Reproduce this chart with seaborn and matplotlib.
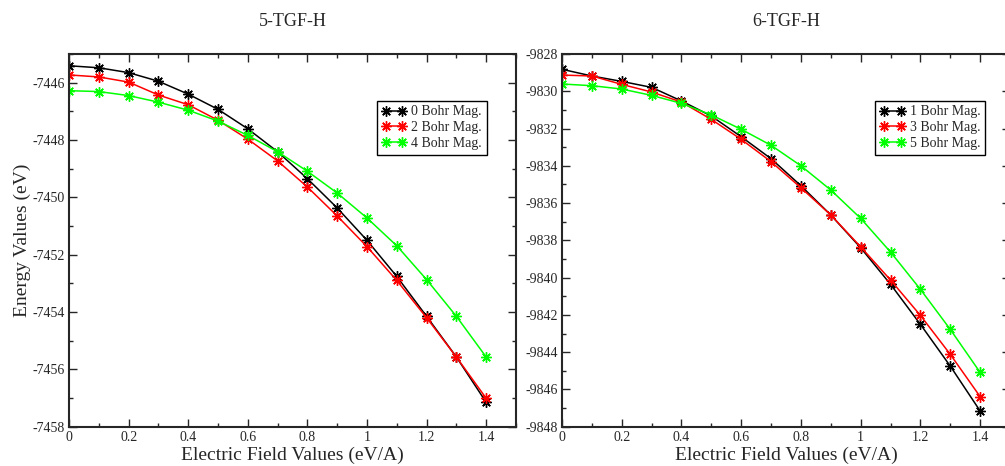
import numpy as np
import pandas as pd
import matplotlib
matplotlib.use("Agg")
import matplotlib.pyplot as plt
from matplotlib.ticker import MultipleLocator, FormatStrFormatter
import seaborn as sns

# alan degerleri (eV/A)
field = [0.0, 0.1, 0.2, 0.3, 0.4, 0.5, 0.6, 0.7, 0.8, 0.9, 1.0, 1.1, 1.2, 1.3, 1.4]

# 5-TGF-H
tgf5_0 = [-7445.41, -7445.48, -7445.65, -7445.95, -7446.40, -7446.93, -7447.61, -7448.41,
          -7449.35, -7450.37, -7451.50, -7452.76, -7454.15, -7455.57, -7457.15]
tgf5_2 = [-7445.73, -7445.80, -7445.98, -7446.43, -7446.77, -7447.31, -7447.97, -7448.73,
          -7449.64, -7450.65, -7451.72, -7452.90, -7454.20, -7455.57, -7457.01]
tgf5_4 = [-7446.28, -7446.31, -7446.45, -7446.68, -7446.96, -7447.34, -7447.84, -7448.41,
          -7449.09, -7449.85, -7450.72, -7451.69, -7452.87, -7454.15, -7455.57]

# 6-TGF-H
tgf6_1 = [-9828.82, -9829.18, -9829.47, -9829.79, -9830.52, -9831.33, -9832.44, -9833.62,
          -9835.07, -9836.64, -9838.40, -9840.36, -9842.51, -9844.75, -9847.16]
tgf6_3 = [-9829.13, -9829.18, -9829.63, -9830.04, -9830.58, -9831.51, -9832.58, -9833.78,
          -9835.18, -9836.64, -9838.35, -9840.13, -9842.03, -9844.12, -9846.39]
tgf6_5 = [-9829.61, -9829.70, -9829.88, -9830.22, -9830.65, -9831.27, -9832.04, -9832.90,
          -9834.00, -9835.30, -9836.82, -9838.63, -9840.63, -9842.78, -9845.09]

labels5 = ["0 Bohr Mag.", "2 Bohr Mag.", "4 Bohr Mag."]
labels6 = ["1 Bohr Mag.", "3 Bohr Mag.", "5 Bohr Mag."]
colors = ["#000000", "#ff0000", "#00ff00"]


def uzun_tablo(series, labels):
    parts = []
    for vals, lab in zip(series, labels):
        parts.append(pd.DataFrame({"field": field, "energy": vals, "mag": lab}))
    return pd.concat(parts, ignore_index=True)


df5 = uzun_tablo([tgf5_0, tgf5_2, tgf5_4], labels5)
df6 = uzun_tablo([tgf6_1, tgf6_3, tgf6_5], labels6)

sns.set_style("ticks")
plt.rcParams["font.family"] = ["Liberation Serif", "DejaVu Serif"]

fig = plt.figure(figsize=(10.05, 4.66), dpi=100)
ax1 = fig.add_axes([0.0687, 0.0844, 0.4447, 0.7997])
ax2 = fig.add_axes([0.5592, 0.0844, 0.4458, 0.7997])


def ciz(ax, df, labels, title, ylim, anchor):
    sns.lineplot(data=df, x="field", y="energy", hue="mag", hue_order=labels,
                 palette=colors, marker=(8, 2, 0), markersize=7.5, linewidth=1.1,
                 markeredgewidth=1.0, legend=False, ax=ax)
    for line, c in zip(ax.lines, colors):
        line.set_markeredgecolor(c)
        line.set_markerfacecolor(c)
    leg = ax.legend(handles=ax.lines[:3], labels=labels, loc="upper left",
                    bbox_to_anchor=anchor, borderaxespad=0, fontsize=10, frameon=True,
                    fancybox=False, framealpha=1, edgecolor="black", borderpad=0.35,
                    handlelength=1.8, handletextpad=0.35, labelspacing=0.2, numpoints=2)
    leg.get_frame().set_linewidth(1.0)
    ax.set_xlim(0, 1.5)
    ax.set_ylim(*ylim)
    ax.xaxis.set_major_locator(MultipleLocator(0.2))
    ax.xaxis.set_minor_locator(MultipleLocator(0.1))
    ax.yaxis.set_major_locator(MultipleLocator(2))
    ax.yaxis.set_minor_locator(MultipleLocator(1))
    ax.xaxis.set_major_formatter(FormatStrFormatter("%g"))
    ax.yaxis.set_major_formatter(FormatStrFormatter("%g"))
    ax.tick_params(which="both", direction="in", top=True, right=True, labelsize=10,
                   width=1.0, pad=3)
    ax.tick_params(which="major", length=6)
    ax.tick_params(which="minor", length=3)
    for sp in ax.spines.values():
        sp.set_linewidth(1.5)
    ax.set_title(title, fontsize=13, pad=20)
    ax.set_xlabel("Electric Field Values (eV/A)", fontsize=14, labelpad=2)
    ax.set_ylabel("")


ciz(ax1, df5, labels5, "5-TGF-H", (-7458, -7445), (0.688, 0.875))
ciz(ax2, df6, labels6, "6-TGF-H", (-9848, -9828), (0.699, 0.875))
ax1.set_ylabel("Energy Values (eV)", fontsize=14, labelpad=1)

fig.savefig("out.png", dpi=100)
